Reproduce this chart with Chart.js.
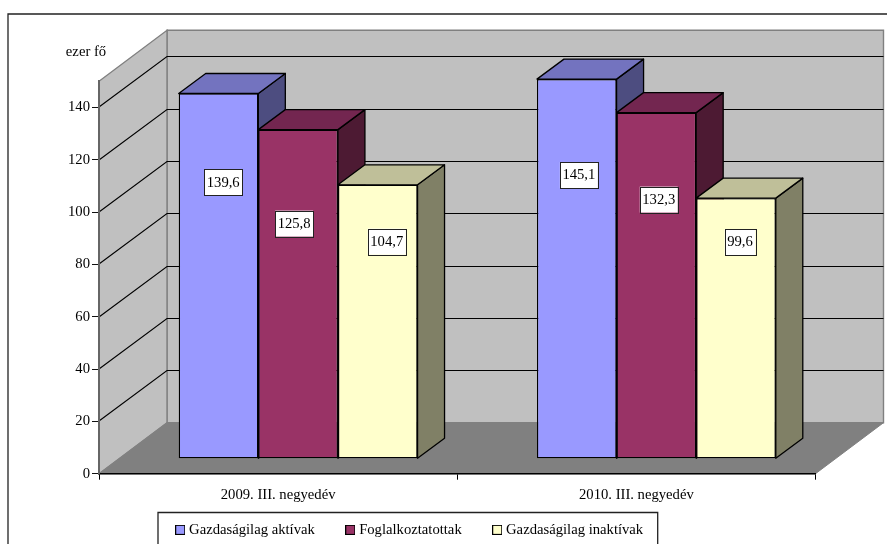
<!DOCTYPE html>
<html>
<head>
<meta charset="utf-8">
<style>html,body{margin:0;padding:0;background:#fff}canvas{display:block}</style>
<script src="https://cdn.jsdelivr.net/npm/chart.js@4"></script>
</head>
<body>
<canvas id="c" width="887" height="544"></canvas>
<script>
const categories = ['2009. III. negyedév', '2010. III. negyedév'];
const seriesNames = ['Gazdaságilag aktívak', 'Foglalkoztatottak', 'Gazdaságilag inaktívak'];
const aktivak = [139.6, 145.1];
const foglalkoztatottak = [125.8, 132.3];
const inaktivak = [104.7, 99.6];
const axisMax = 150;
const axisStep = 20;
const axisTitle = 'ezer fő';

const frontColors = ['#9999FF', '#993366', '#FFFFCC'];
const topColors = ['#7373BF', '#732650', '#BFBF99'];
const sideColors = ['#4D4D80', '#4D1A33', '#808066'];
// hand-placed data label boxes, relative to bar top centre
const labelShift = [
  [[4.7, 88.8], [2.1, 96]],
  [[-4, 94], [2.4, 87]],
  [[9, 56.8], [4, 44]]
];
const FONT = '"Liberation Serif", "Times New Roman", serif';
const FS = 14.67;
const wall = {dx: 68, dy: -51};
const plane = {dx: 20, dy: -15};
const barDepth = {dx: 27, dy: -20};

function poly(ctx, pts, fill, stroke, lw) {
  ctx.beginPath();
  pts.forEach((p, i) => i ? ctx.lineTo(p[0], p[1]) : ctx.moveTo(p[0], p[1]));
  ctx.closePath();
  if (fill) { ctx.fillStyle = fill; ctx.fill(); }
  if (stroke) { ctx.strokeStyle = stroke; ctx.lineWidth = lw || 1; ctx.stroke(); }
}
function swatch(color) {
  const s = document.createElement('canvas');
  s.width = 10; s.height = 10;
  const g = s.getContext('2d');
  g.fillStyle = '#000'; g.fillRect(0, 0, 10, 10);
  g.fillStyle = color; g.fillRect(1, 1, 8, 8);
  return s;
}
const swatches = frontColors.map(swatch);

const scene = {
  id: 'scene',
  beforeLayout(chart) {
    const l = chart.legend;
    if (l && !l._wrapped) {
      const f = l.fit.bind(l);
      l.fit = () => { f(); l.height = 40; };
      l._wrapped = true;
    }
  },
  afterLayout(chart) {
    chart.legend.top = 529 - 34 - 6.5;
  },
  beforeDraw(chart) {
    const ctx = chart.ctx, a = chart.chartArea, y = chart.scales.y;
    const L = a.left, R = a.right, B = a.bottom, T = a.top;
    const dx = wall.dx, dy = wall.dy;
    ctx.save();
    // outer frame, open to the right and the bottom
    ctx.strokeStyle = '#222'; ctx.lineWidth = 1.3;
    ctx.beginPath(); ctx.moveTo(8, 544); ctx.lineTo(8, 14); ctx.lineTo(887, 14); ctx.stroke();
    // legend frame
    ctx.beginPath(); ctx.moveTo(158, 546); ctx.lineTo(158, 512.5); ctx.lineTo(657.7, 512.5); ctx.lineTo(657.7, 546); ctx.stroke();
    // walls and floor
    poly(ctx, [[L + dx, T + dy], [R + dx, T + dy], [R + dx, B + dy], [L + dx, B + dy]], '#C0C0C0', '#808080', 1.4);
    poly(ctx, [[L, B], [L, T], [L + dx, T + dy], [L + dx, B + dy]], '#C0C0C0', '#808080', 1.4);
    poly(ctx, [[L, B], [R, B], [R + dx, B + dy], [L + dx, B + dy]], '#808080', '#808080', 1);
    // gridlines across side and back walls
    ctx.strokeStyle = '#000'; ctx.lineWidth = 1.1;
    y.ticks.forEach(t => {
      if (t.value === 0) return;
      const py = Math.round(y.getPixelForValue(t.value));
      ctx.beginPath();
      ctx.moveTo(L, py);
      ctx.lineTo(L + dx, py + dy + 0.5);
      ctx.lineTo(R + dx, py + dy + 0.5);
      ctx.stroke();
    });
    // axis title
    ctx.fillStyle = '#000';
    ctx.font = FS + 'px ' + FONT;
    ctx.textAlign = 'center'; ctx.textBaseline = 'middle';
    ctx.fillText(axisTitle, 86, 52);
    ctx.restore();
  },
  beforeDatasetsDraw(chart) {
    const ctx = chart.ctx;
    ctx.save();
    ctx.translate(plane.dx, plane.dy);
    // depth faces, drawn left to right so neighbours overlap correctly
    ctx.lineJoin = 'round';
    const n = chart.data.labels.length;
    for (let c = 0; c < n; c++) {
      chart.data.datasets.forEach((ds, s) => {
        const b = chart.getDatasetMeta(s).data[c];
        const l = b.x - b.width / 2, r = b.x + b.width / 2;
        const d = barDepth;
        poly(ctx, [[r, b.y], [r + d.dx, b.y + d.dy], [r + d.dx, b.base + d.dy], [r, b.base]], sideColors[s], '#000', 1.3);
        poly(ctx, [[l, b.y], [l + d.dx, b.y + d.dy], [r + d.dx, b.y + d.dy], [r, b.y]], topColors[s], '#000', 1.3);
      });
    }
  },
  afterDatasetsDraw(chart) {
    const ctx = chart.ctx;
    ctx.restore();
    // data labels
    ctx.save();
    ctx.font = FS + 'px ' + FONT;
    ctx.textAlign = 'center'; ctx.textBaseline = 'middle';
    chart.data.datasets.forEach((ds, s) => {
      chart.getDatasetMeta(s).data.forEach((b, c) => {
        const txt = ds.data[c].toFixed(1).replace('.', ',');
        const cx = b.x + plane.dx + labelShift[s][c][0];
        const cy = b.y + plane.dy + labelShift[s][c][1];
        const w = ctx.measureText(txt).width + 5;
        ctx.fillStyle = '#fff';
        ctx.fillRect(cx - w / 2, cy - 13, w, 26);
        ctx.strokeStyle = '#222'; ctx.lineWidth = 1;
        ctx.strokeRect(Math.round(cx - w / 2) + 0.5, Math.round(cy - 13) + 0.5, Math.round(w), 26);
        ctx.fillStyle = '#000';
        ctx.fillText(txt, cx, cy + 0.5);
      });
    });
    ctx.restore();
  }
};

new Chart(document.getElementById('c'), {
  type: 'bar',
  data: {
    labels: categories,
    datasets: [aktivak, foglalkoztatottak, inaktivak].map((d, i) => ({
      label: seriesNames[i],
      data: d,
      backgroundColor: frontColors[i],
      borderColor: '#000',
      borderWidth: 1.3,
      borderSkipped: false,
      categoryPercentage: 2 / 3,
      barPercentage: 1,
      clip: false
    }))
  },
  options: {
    responsive: false,
    animation: false,
    devicePixelRatio: 1,
    layout: {padding: {left: 6.4, right: 71.5, top: 81.3, bottom: 0}},
    scales: {
      x: {
        afterFit(s) { s.height = 30.3; },
        grid: {offset: true, drawOnChartArea: false, tickLength: 6, tickColor: '#000', color: '#000'},
        border: {display: true, color: '#000', width: 1.4},
        ticks: {color: '#000', padding: 6.5, font: {family: FONT, size: FS}, maxRotation: 0}
      },
      y: {
        min: 0,
        max: axisMax,
        afterFit(s) { s.width = 92.6; },
        grid: {drawOnChartArea: false, tickLength: 7, tickColor: '#111', color: '#111'},
        border: {display: true, color: '#666', width: 2},
        ticks: {stepSize: axisStep, includeBounds: false, color: '#000', padding: 2, font: {family: FONT, size: FS}}
      }
    },
    plugins: {
      tooltip: {enabled: false},
      legend: {
        position: 'bottom',
        labels: {
          usePointStyle: true,
          pointStyleWidth: 3,
          padding: 34,
          color: '#000',
          font: {family: FONT, size: FS},
          generateLabels(chart) {
            return Chart.defaults.plugins.legend.labels.generateLabels(chart).map((it, i) => {
              it.pointStyle = swatches[i];
              return it;
            });
          }
        }
      }
    }
  },
  plugins: [scene]
});
</script>
</body>
</html>
